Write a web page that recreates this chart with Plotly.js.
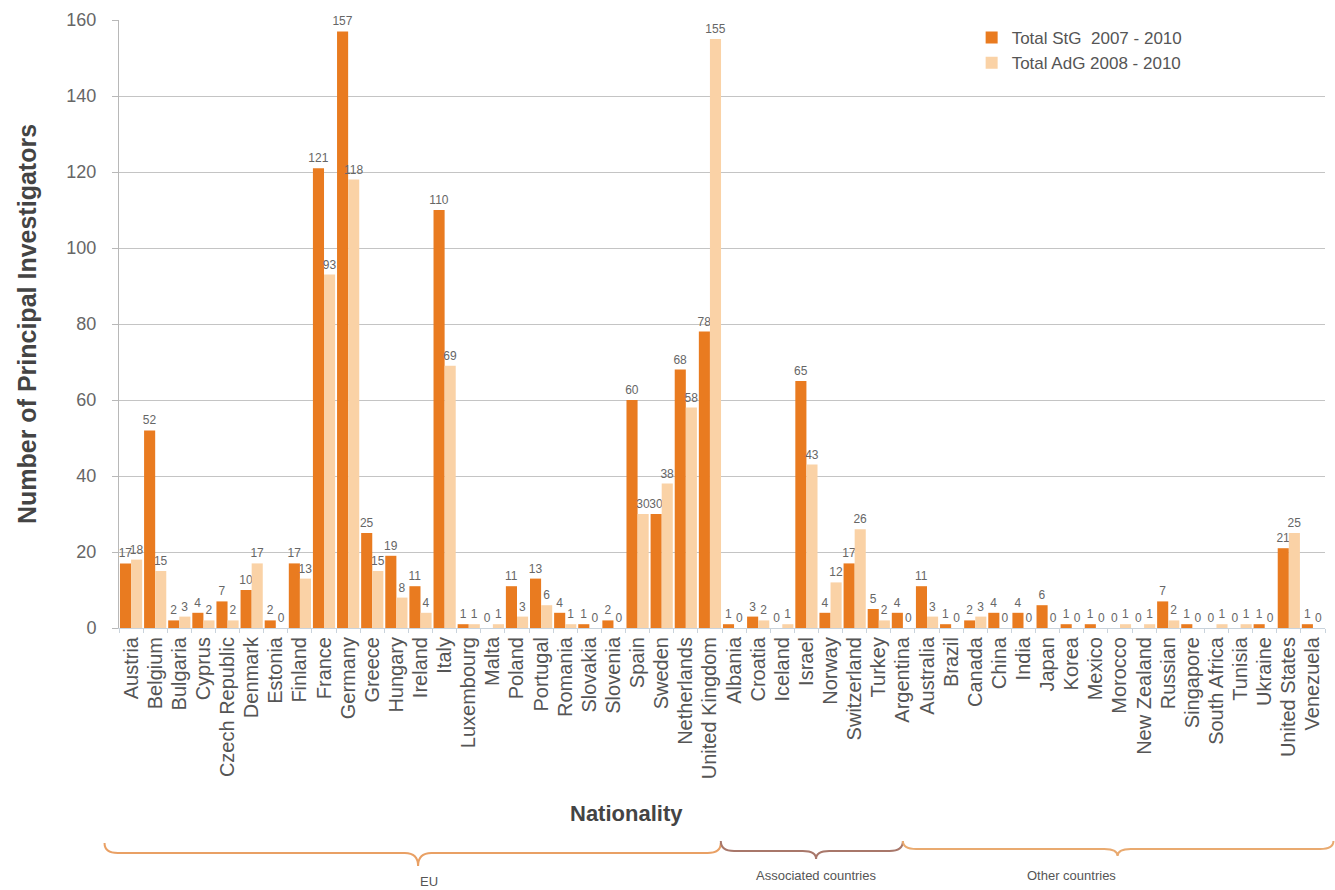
<!DOCTYPE html>
<html>
<head>
<meta charset="utf-8">
<script src="https://cdn.plot.ly/plotly-3.0.1.min.js"></script>
<style>html,body{margin:0;padding:0;background:#fff;}#chart{width:1335px;height:890px;}</style>
</head>
<body>
<div id="chart"></div>
<script>
const countries = ["Austria","Belgium","Bulgaria","Cyprus","Czech Republic","Denmark","Estonia","Finland","France","Germany","Greece","Hungary","Ireland","Italy","Luxembourg","Malta","Poland","Portugal","Romania","Slovakia","Slovenia","Spain","Sweden","Netherlands","United Kingdom","Albania","Croatia","Iceland","Israel","Norway","Switzerland","Turkey","Argentina","Australia","Brazil","Canada","China","India","Japan","Korea","Mexico","Morocco","New Zealand","Russian","Singapore","South Africa","Tunisia","Ukraine","United States","Venezuela"];
const stg = [17,52,2,4,7,10,2,17,121,157,25,19,11,110,1,0,11,13,4,1,2,60,30,68,78,1,3,0,65,4,17,5,4,11,1,2,4,4,6,1,1,0,0,7,1,0,0,1,21,1];
const adg = [18,15,3,2,2,17,0,13,93,118,15,8,4,69,1,1,3,6,1,0,0,30,38,58,155,0,2,1,43,12,26,2,0,3,0,3,0,0,0,0,0,1,1,2,0,1,1,0,25,0];
const seriesNames = ["Total StG  2007 - 2010","Total AdG 2008 - 2010"];
const groups = [
  {label:"EU", first:0, last:24},
  {label:"Associated countries", first:25, last:31},
  {label:"Other countries", first:32, last:49}
];

const FONT = "Liberation Sans, Arial, sans-serif";
const N = countries.length;
const W = 1335, H = 890;
const PLOT_TOP = 20, PLOT_H = 608, PLOT_L = 119, PLOT_R = 10;
const PLOT_W = W - PLOT_L - PLOT_R;
const px = i => (i + 0.5) / N;                          // category index -> paper x
const pxPix = pix => (pix - PLOT_L) / PLOT_W;          // page pixel x -> paper x
const py = pix => (PLOT_TOP + PLOT_H - pix) / PLOT_H;  // page pixel y -> paper y

const traces = [
  {type:"bar", name:seriesNames[0], x:countries, y:stg, marker:{color:"#e97b20"},
   text:stg.map(String), textposition:"outside", constraintext:"none", cliponaxis:false,
   textfont:{family:FONT, size:12, color:"#666"}},
  {type:"bar", name:seriesNames[1], x:countries, y:adg, marker:{color:"#fad2a6"},
   text:adg.map(String), textposition:"outside", constraintext:"none", cliponaxis:false,
   textfont:{family:FONT, size:12, color:"#666"}}
];

// curly braces grouping the countries under the axis
const braceGeom = [
  {x0:-1.1, x1:24.45, tip:11.9, yEnd:843, yMid:853, yTip:866, yText:872, color:"#e9a064"},
  {x0:24.45, x1:32.0, tip:28.4, yEnd:841, yMid:851, yTip:859, yText:866, color:"#a8776a"},
  {x0:32.0,  x1:49.85, tip:40.9, yEnd:841, yMid:849, yTip:856, yText:866, color:"#e9aa70"}
];
const shapes = [];
const annotations = [];
groups.forEach((g,k) => {
  const b = braceGeom[k];
  const x0 = px(b.x0), x1 = px(b.x1), xm = px(b.tip);
  const d = 0.011;
  const yE = py(b.yEnd), yM = py(b.yMid), yT = py(b.yTip);
  const path = `M ${x0},${yE} Q ${x0},${yM} ${x0+d},${yM} L ${xm-d},${yM} Q ${xm},${yM} ${xm},${yT} Q ${xm},${yM} ${xm+d},${yM} L ${x1-d},${yM} Q ${x1},${yM} ${x1},${yE}`;
  shapes.push({type:"path", xref:"paper", yref:"paper", path:path, line:{color:b.color, width:2}});
  annotations.push({xref:"paper", yref:"paper", x:xm, y:py(b.yText), yanchor:"top", showarrow:false,
    text:g.label, font:{family:FONT, size:13, color:"#555"}});
});
// x axis title, placed left of plot centre as in the original
annotations.push({xref:"paper", yref:"paper", x:pxPix(626), y:py(813), xanchor:"center", yanchor:"middle",
  showarrow:false, text:"<b>Nationality</b>", font:{family:FONT, size:22, color:"#444"}});

const layout = {
  width:W, height:H,
  margin:{l:PLOT_L, r:PLOT_R, t:PLOT_TOP, b:H-PLOT_TOP-PLOT_H},
  paper_bgcolor:"#fff", plot_bgcolor:"#fff",
  barmode:"group", bargap:0.08, bargroupgap:0,
  font:{family:FONT, color:"#555"},
  showlegend:true,
  legend:{x:0.707, y:1.0, xanchor:"left", yanchor:"top", bgcolor:"rgba(0,0,0,0)",
    font:{family:FONT, size:17, color:"#555"}, itemwidth:30},
  xaxis:{type:"category", tickangle:-90, tickfont:{family:FONT, size:20, color:"#555"},
    showgrid:false, showline:true, linecolor:"#c9d3dc", linewidth:1,
    ticks:"outside", ticklen:4, tickcolor:"#c9d3dc", tickson:"boundaries",
    range:[-0.5, N-0.5]},
  yaxis:{range:[0,160], dtick:20, showgrid:true, gridcolor:"#c4c4c4", gridwidth:1,
    zeroline:false, showline:true, linecolor:"#b8b8b8", linewidth:1,
    ticks:"outside", ticklen:6, tickcolor:"#b8b8b8", ticklabelstandoff:12,
    tickfont:{family:FONT, size:18, color:"#666"},
    title:{text:"Number of Principal Investigators", font:{family:FONT, size:25, color:"#444", weight:"bold"}, standoff:22}},
  shapes:shapes,
  annotations:annotations
};

Plotly.newPlot("chart", traces, layout, {displayModeBar:false, staticPlot:true});
</script>
</body>
</html>
